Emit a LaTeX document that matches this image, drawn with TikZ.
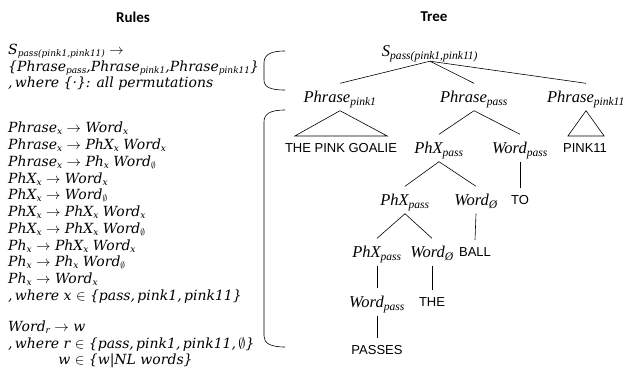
\documentclass[tikz,border=0pt]{standalone}
\usepackage{fontspec}
\setmainfont{Liberation Serif}
\newfontfamily\rulefont{DejaVu Serif}
\newfontfamily\wordfont{Liberation Sans}
\newfontfamily\headfont{Carlito}
\usetikzlibrary{positioning}

\newcommand{\lsub}[1]{\textsubscript{#1}}
\newcommand{\rsub}[1]{\raisebox{-0.3ex}{\fontsize{9}{9}\selectfont\itshape #1}}
\newcommand{\ra}{\ $\rightarrow$\ }

\begin{document}
\begin{tikzpicture}[x=1pt, y=-1pt,
  head/.style={font=\headfont\bfseries\fontsize{15}{18}\selectfont, inner sep=0pt},
  rule/.style={anchor=base west, inner sep=0pt, font=\rulefont\itshape\fontsize{14}{16}\selectfont},
  cat/.style={anchor=base, font=\itshape\fontsize{16.5}{19}\selectfont, text height=11pt, text depth=0pt, inner xsep=1pt, inner ysep=8pt},
  word/.style={anchor=base, font=\wordfont\fontsize{13}{15}\selectfont, text height=9.5pt, text depth=0pt, inner xsep=1pt, inner ysep=7pt},
  edge/.style={line width=0.6pt, black}
]
\useasboundingbox (0,0) rectangle (623,368);

% headings
\node[head] (rules) at (133,17) {Rules};
\node[head] (tree) at (434,17) {Tree};

% rules
\node[rule] (r1) at (8,54) {S\rsub{pass(pink1,pink11)}\ra};
\node[rule] (r2) at (8,71) {\{Phrase\rsub{pass},Phrase\rsub{pink1},Phrase\rsub{pink11}\}};
\node[rule] (r3) at (8,87) {,\,where \{\textperiodcentered\}: all permutations};

\node[rule] (r4) at (8,132) {Phrase\rsub{x}\ra Word\rsub{x}};
\node[rule] (r5) at (8,149) {Phrase\rsub{x}\ra PhX\rsub{x} Word\rsub{x}};
\node[rule] (r6) at (8,166) {Phrase\rsub{x}\ra Ph\rsub{x} Word\rsub{$\emptyset$}};
\node[rule] (r7) at (8,183) {PhX\rsub{x}\ra Word\rsub{x}};
\node[rule] (r8) at (8,199) {PhX\rsub{x}\ra Word\rsub{$\emptyset$}};
\node[rule] (r9) at (8,216) {PhX\rsub{x}\ra PhX\rsub{x} Word\rsub{x}};
\node[rule] (r10) at (8,233) {PhX\rsub{x}\ra PhX\rsub{x} Word\rsub{$\emptyset$}};
\node[rule] (r11) at (8,250) {Ph\rsub{x}\ra PhX\rsub{x} Word\rsub{x}};
\node[rule] (r12) at (8,266) {Ph\rsub{x}\ra Ph\rsub{x} Word\rsub{$\emptyset$}};
\node[rule] (r13) at (8,283) {Ph\rsub{x}\ra Word\rsub{x}};
\node[rule] (r14) at (8,300) {,\,where x $\in$ \{pass,\,pink1,\,pink11\}};

\node[rule] (r15) at (8,331) {Word\rsub{r}\ra w};
\node[rule] (r16) at (8,348) {,\,where r $\in$ \{pass,\,pink1,\,pink11,\,$\emptyset$\}};
\node[rule] (r17) at (8,364) {\hphantom{,\,where r}\llap{w} $\in$ \{w|NL words\}};

% brackets
\draw[edge] (285,51) .. controls (270,51) and (264,55) .. (264,63) -- (264,80)
  .. controls (264,87) and (270,90) .. (285,90);
\draw[edge] (285,110) .. controls (270,110) and (264,114) .. (264,122) -- (264,336)
  .. controls (264,343) and (270,347) .. (285,347);

% tree
\node[cat, inner ysep=4.5pt] (s) at (430,56.5) {S\lsub{pass(pink1,pink11)}};
\node[cat] (p1) at (340,102.5) {Phrase\lsub{pink1}};
\node[cat] (p2) at (474,102.5) {Phrase\lsub{pass}};
\node[cat] (p3) at (586,102.5) {Phrase\lsub{pink11}};
\draw[edge] (s.south) -- (p1.north);
\draw[edge] (s.south) -- (p2.north);
\draw[edge] (s.south) -- (p3.north);

\node[word] (goalie) at (341,152.7) {THE PINK GOALIE};
\node[word] (pink) at (585,152.7) {PINK11};
\draw[edge] (p1.south) -- ([xshift=11pt]goalie.north west) -- ([xshift=-11pt]goalie.north east) -- cycle;
\draw[edge] (p3.south) -- ([xshift=6pt]pink.north west) -- ([xshift=-4pt]pink.north east) -- cycle;

\node[cat] (phx1) at (439,153.5) {PhX\lsub{pass}};
\node[cat] (wp1) at (520,153.5) {Word\lsub{pass}};
\draw[edge] (p2.south) -- (phx1.north);
\draw[edge] (p2.south) -- (wp1.north);

\node[word] (to) at (520,204.7) {TO};
\draw[edge] (wp1.south) -- (to.north);

\node[cat] (phx2) at (405,205.5) {PhX\lsub{pass}};
\node[cat] (wo1) at (476,205.5) {Word\lsub{Ø}};
\draw[edge] (phx1.south) -- (phx2.north);
\draw[edge] (phx1.south) -- (wo1.north);

\node[word] (ball) at (475,256.7) {BALL};
\draw[edge] (wo1.south) -- (ball.north);

\node[cat] (phx3) at (377,257.5) {PhX\lsub{pass}};
\node[cat] (wo2) at (432,257.5) {Word\lsub{Ø}};
\draw[edge] (phx2.south) -- (phx3.north);
\draw[edge] (phx2.south) -- (wo2.north);

\node[cat] (wp2) at (377,307.5) {Word\lsub{pass}};
\node[word] (the) at (432,306.7) {THE};
\draw[edge] (phx3.south) -- (wp2.north);
\draw[edge] (wo2.south) -- (the.north);

\node[word] (passes) at (377,354.7) {PASSES};
\draw[edge] (wp2.south) -- (passes.north);
\end{tikzpicture}
\end{document}
